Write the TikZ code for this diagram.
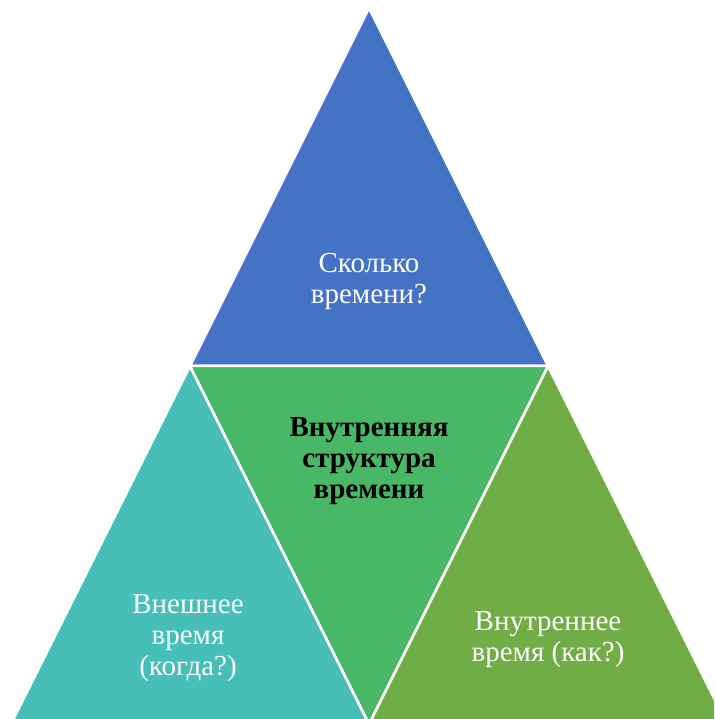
\documentclass[tikz,border=0pt]{standalone}
\usepackage{fontspec}
\setmainfont{Liberation Serif}
\usetikzlibrary{calc}

\definecolor{topblue}{HTML}{4472C4}
\definecolor{midgreen}{HTML}{48B866}
\definecolor{leftteal}{HTML}{45BFB8}
\definecolor{rightgreen}{HTML}{70AD47}

\begin{document}
\begin{tikzpicture}[x=1pt,y=1pt,
    tri/.style={draw=white,line width=2.5pt,line join=miter},
    lbl/.style={align=center,text=white,font=\fontsize{29}{31}\selectfont},
    midlbl/.style={align=center,text=black,font=\fontsize{29}{31}\selectfont\bfseries}]
    \useasboundingbox (0,0) rectangle (714,719);
    \begin{scope}
        \clip (0,0) rectangle (714,719);
        % top
        \filldraw[tri,fill=topblue] (369,711)--(190,353)--(548,353)--cycle;
        % bottom row
        \filldraw[tri,fill=leftteal] (190,353)--(11,-5)--(369,-5)--cycle;
        \filldraw[tri,fill=rightgreen] (548,353)--(369,-5)--(727,-5)--cycle;
        \filldraw[tri,fill=midgreen] (190,353)--(548,353)--(369,-5)--cycle;
    \end{scope}
    \node[lbl] (howlong) at (369,438) {Сколько\\времени?};
    \node[midlbl] (inner) at (369,258) {Внутренняя\\структура\\времени};
    \node[lbl] (outer) at (188,81) {Внешнее\\время\\(когда?)};
    \node[lbl] (innertime) at (548,79) {Внутреннее\\время (как?)};
\end{tikzpicture}
\end{document}
